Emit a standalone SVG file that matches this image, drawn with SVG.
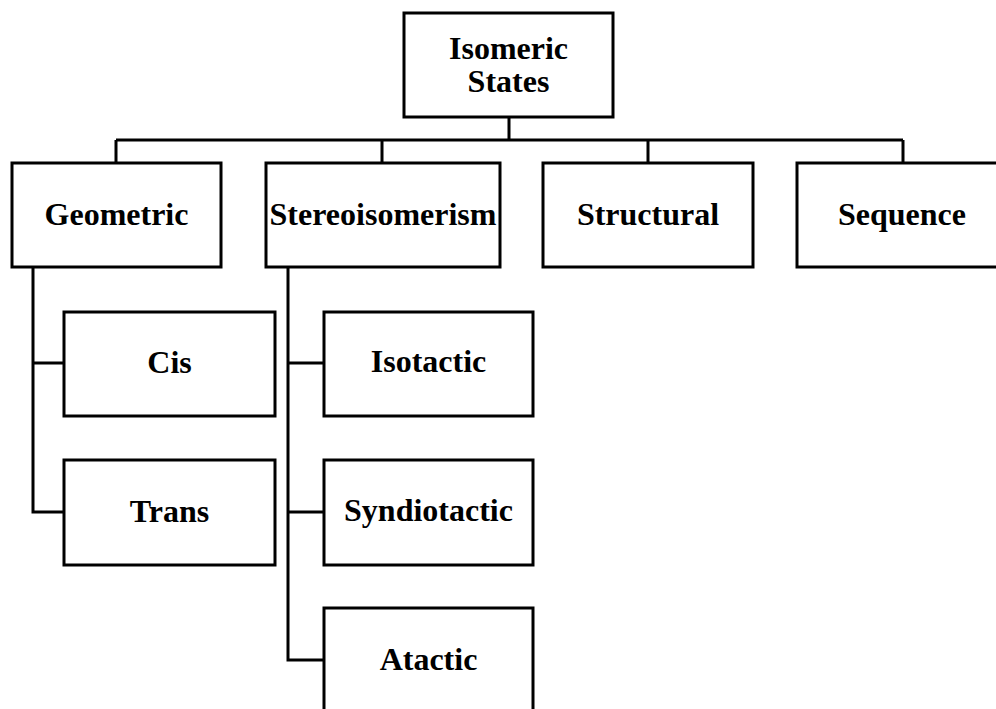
<svg xmlns="http://www.w3.org/2000/svg" width="996" height="709" viewBox="0 0 996 709">
<style>
.box{fill:#fff;stroke:#000;stroke-width:3}
.ln{fill:none;stroke:#000;stroke-width:3}
text{font-family:"Liberation Serif","Times New Roman",serif;font-weight:bold;font-size:32px;fill:#000;text-anchor:middle}
</style>
<rect width="996" height="709" fill="#fff"/>
<g id="connectors">
<path class="ln" d="M509,117V140M116,140H903M116,140V163M382,140V163M648,140V163M903,140V163"/>
<path class="ln" d="M33,267V512H64M33,363H64"/>
<path class="ln" d="M288,267V660H324M288,363H324M288,512H324"/>
</g>
<g id="isomeric-states"><rect class="box" x="404" y="13" width="209" height="104"/><text x="508.5" y="59">Isomeric</text><text x="508.5" y="92">States</text></g>
<g id="geometric"><rect class="box" x="12" y="163" width="209" height="104"/><text x="116.5" y="225">Geometric</text></g>
<g id="stereoisomerism"><rect class="box" x="266" y="163" width="234" height="104"/><text x="383" y="225">Stereoisomerism</text></g>
<g id="structural"><rect class="box" x="543" y="163" width="210" height="104"/><text x="648" y="225">Structural</text></g>
<g id="sequence"><rect class="box" x="797" y="163" width="210" height="104"/><text x="902" y="225">Sequence</text></g>
<g id="cis"><rect class="box" x="64" y="312" width="211" height="104"/><text x="169.5" y="373">Cis</text></g>
<g id="trans"><rect class="box" x="64" y="460" width="211" height="105"/><text x="169.5" y="522">Trans</text></g>
<g id="isotactic"><rect class="box" x="324" y="312" width="209" height="104"/><text x="428.5" y="372">Isotactic</text></g>
<g id="syndiotactic"><rect class="box" x="324" y="460" width="209" height="105"/><text x="428.5" y="521">Syndiotactic</text></g>
<g id="atactic"><rect class="box" x="324" y="608" width="209" height="110"/><text x="428.5" y="670">Atactic</text></g>
</svg>
